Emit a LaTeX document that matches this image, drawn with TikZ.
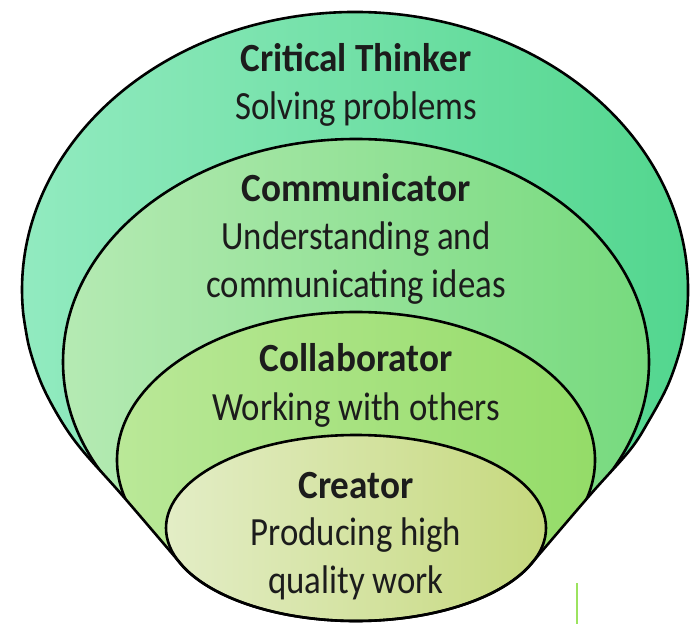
\documentclass[tikz,border=0pt]{standalone}
\usepackage{fontspec}
\setmainfont{Carlito}
\newfontfamily\condB[FakeStretch=0.93]{Carlito}
\newfontfamily\condR[FakeStretch=0.87]{Carlito}
\definecolor{ctL}{HTML}{93EBC1}
\definecolor{ctR}{HTML}{52D68E}
\definecolor{cmL}{HTML}{B5EAB3}
\definecolor{cmR}{HTML}{76DA7E}
\definecolor{clL}{HTML}{BAE898}
\definecolor{clR}{HTML}{94DC68}
\definecolor{crL}{HTML}{E3EDC6}
\definecolor{crR}{HTML}{C6D97E}
\definecolor{txt}{HTML}{1C1C1C}
\definecolor{tickgreen}{HTML}{9CE35F}
\newcommand\envpath{(686.7,309.8) -- plot[smooth,tension=0.55] coordinates {(686.7,309.8) (680.7,276.2) (667.9,238.9) (649.0,203.5) (630,174) (590,129) (528.2,56.7)} arc[start angle=335,end angle=205,x radius=190,y radius=93] -- plot[smooth,tension=0.55] coordinates {(183.8,56.7) (122,129) (82,174) (61.0,203.5) (42.1,238.9) (29.3,276.2) (23.3,309.8)} arc[start angle=185,end angle=-5,x radius=333,y radius=278] -- cycle}
\begin{document}
\begin{tikzpicture}[x=1pt,y=1pt,
  outline/.style={draw=black,line width=2.6pt},
  ttl/.style={anchor=base,text=txt,inner sep=0pt,font=\condB\bfseries\fontsize{40}{48}\selectfont},
  dsc/.style={anchor=base,text=txt,inner sep=0pt,font=\condR\fontsize{40}{48}\selectfont}]
\useasboundingbox (0,0) rectangle (690,624);
\coordinate (K) at (356,96);
% outer shape: Critical Thinker
\shade[left color=ctL,right color=ctR] \envpath;
\begin{scope}
  \clip \envpath;
  \shadedraw[outline,left color=cmL,right color=cmR] (356,262) ellipse[x radius=293,y radius=223];
  \shadedraw[outline,left color=clL,right color=clR] (356,164) ellipse[x radius=239,y radius=148];
\end{scope}
\shadedraw[outline,left color=crL,right color=crR] (K) ellipse[x radius=190,y radius=93];
\draw[outline,line join=round] \envpath;
% texts
\node[ttl] (ct1) at (356,624-72) {Critical Thinker};
\node[dsc] (ct2) at (356,624-120) {Solving problems};
\node[ttl] (cm1) at (356,624-202) {Communicator};
\node[dsc] (cm2) at (356,624-250) {Understanding and};
\node[dsc] (cm3) at (356,624-298) {communicating ideas};
\node[ttl] (cl1) at (356,624-372) {Collaborator};
\node[dsc] (cl2) at (356,624-420) {Working with others};
\node[ttl] (cr1) at (356,624-498) {Creator};
\node[dsc] (cr2) at (356,624-545) {Producing high};
\node[dsc] (cr3) at (356,624-593) {quality work};
% small green tick
\coordinate (t1) at (577,41);
\coordinate (t2) at (577,0);
\draw[tickgreen,line width=2pt] (t1) -- (t2);
\end{tikzpicture}
\end{document}
